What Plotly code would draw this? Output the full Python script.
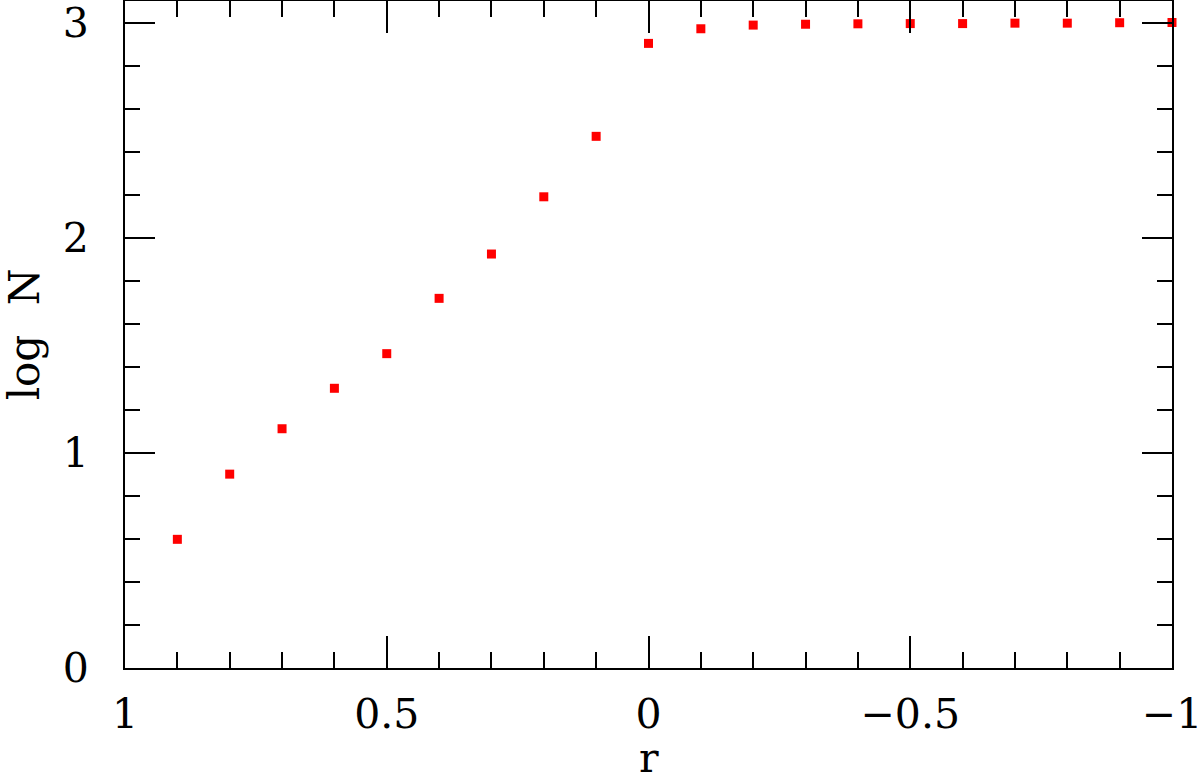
import plotly.graph_objects as go

r_values = [0.9, 0.8, 0.7, 0.6, 0.5, 0.4, 0.3, 0.2, 0.1, 0.0,
            -0.1, -0.2, -0.3, -0.4, -0.5, -0.6, -0.7, -0.8, -0.9, -1.0]
logN_values = [0.598, 0.901, 1.112, 1.300, 1.461, 1.718, 1.924, 2.190, 2.471, 2.903,
               2.971, 2.988, 2.992, 2.994, 2.995, 2.995, 2.997, 2.997, 2.999, 3.0]

x_tickvals = [1, 0.5, 0, -0.5, -1]
x_ticktext = ["1", "0.5", "0", "\u22120.5", "\u22121"]
y_tickvals = [0, 1, 2, 3]
y_ticktext = ["0", "1", "2", "3"]
x_title = "r"
y_title = "log\u2002\u2009N"

FONT = "DejaVu Serif"

fig = go.Figure()
fig.add_trace(go.Scatter(
    x=r_values, y=logN_values, mode="markers",
    marker=dict(symbol="square", size=9, color="#ff0000", line=dict(width=0)),
    cliponaxis=False, showlegend=False,
))

axis_common = dict(
    showgrid=False, zeroline=False, showline=True, linecolor="black", linewidth=2,
    ticks="inside", tickcolor="black", tickwidth=2, mirror="allticks",
    tickfont=dict(family=FONT, size=41, color="black"), automargin=False,
    ticklabeloverflow="allow",
)

fig.update_xaxes(
    range=[1, -1], tickvals=x_tickvals, ticktext=x_ticktext, ticklen=32,
    minor=dict(dtick=0.1, tick0=0, ticklen=16, tickwidth=2, tickcolor="black", ticks="inside"),
    ticklabelstandoff=9,
    **axis_common,
)
fig.update_yaxes(
    range=[0, 3.1], tickvals=y_tickvals, ticktext=y_ticktext, ticklen=30,
    minor=dict(dtick=0.2, tick0=0, ticklen=15, tickwidth=2, tickcolor="black", ticks="inside"),
    title=dict(text=y_title, font=dict(family=FONT, size=42, color="black"), standoff=30),
    ticklabelstandoff=26,
    **axis_common,
)

fig.add_annotation(
    text=x_title, xref="paper", yref="paper", x=0.5, y=0,
    xanchor="center", yanchor="top", yshift=-64, showarrow=False,
    font=dict(family=FONT, size=41, color="black"),
)

fig.update_layout(
    width=1200, height=774,
    margin=dict(l=125, r=28, t=1, b=106),
    plot_bgcolor="white", paper_bgcolor="white",
)

fig.write_html(
    "out.html",
    config={"displayModeBar": False},
    post_script="document.body.style.margin='0';document.body.style.overflow='hidden';",
)
